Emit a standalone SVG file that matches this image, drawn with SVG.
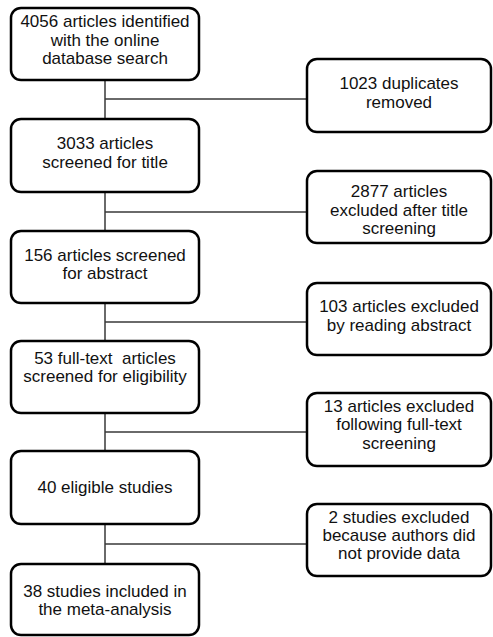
<svg xmlns="http://www.w3.org/2000/svg" width="493" height="637" viewBox="0 0 493 637">
<style>
.box{fill:#fff;stroke:#000;stroke-width:2.5}
.ln{stroke:#3a3a3a;stroke-width:1.5;fill:none}
text{font-family:"Liberation Sans",Arial,sans-serif;font-size:17px;fill:#111;text-anchor:middle}
</style>
<rect width="493" height="637" fill="#fff"/>
<g id="connectors">
<path class="ln" d="M105 80V119M105 99H307"/>
<path class="ln" d="M105 192V231M105 212H307"/>
<path class="ln" d="M105 303V341M105 322H307"/>
<path class="ln" d="M105 413V451M105 432H307"/>
<path class="ln" d="M105 524V564M105 544H307"/>
</g>
<g id="n1"><rect class="box" x="11" y="8" width="188" height="72" rx="10"/>
<text x="105" y="27">4056 articles identified</text><text x="105" y="46">with the online</text><text x="105" y="64">database search</text></g>
<g id="n2"><rect class="box" x="11" y="119" width="188" height="73" rx="10"/>
<text x="105" y="149">3033 articles</text><text x="105" y="168">screened for title</text></g>
<g id="n3"><rect class="box" x="11" y="231" width="188" height="72" rx="10"/>
<text x="105" y="261">156 articles screened</text><text x="105" y="279">for abstract</text></g>
<g id="n4"><rect class="box" x="11" y="341" width="188" height="72" rx="10"/>
<text x="105" y="364" xml:space="preserve">53 full-text  articles</text><text x="105" y="382">screened for eligibility</text></g>
<g id="n5"><rect class="box" x="11" y="451" width="188" height="73" rx="10"/>
<text x="105" y="493">40 eligible studies</text></g>
<g id="n6"><rect class="box" x="11" y="564" width="188" height="71" rx="10"/>
<text x="105" y="597">38 studies included in</text><text x="105" y="615">the meta-analysis</text></g>
<g id="r1"><rect class="box" x="307" y="59" width="184" height="73" rx="10"/>
<text x="399" y="89">1023 duplicates</text><text x="399" y="108">removed</text></g>
<g id="r2"><rect class="box" x="307" y="171" width="184" height="72" rx="10"/>
<text x="399" y="197">2877 articles</text><text x="399" y="216">excluded after title</text><text x="399" y="234">screening</text></g>
<g id="r3"><rect class="box" x="307" y="283" width="184" height="72" rx="10"/>
<text x="399" y="312">103 articles excluded</text><text x="399" y="331">by reading abstract</text></g>
<g id="r4"><rect class="box" x="307" y="393" width="184" height="73" rx="10"/>
<text x="399" y="412">13 articles excluded</text><text x="399" y="430">following full-text</text><text x="399" y="449">screening</text></g>
<g id="r5"><rect class="box" x="307" y="504" width="184" height="72" rx="10"/>
<text x="399" y="523">2 studies excluded</text><text x="399" y="541">because authors did</text><text x="399" y="559">not provide data</text></g>
</svg>
